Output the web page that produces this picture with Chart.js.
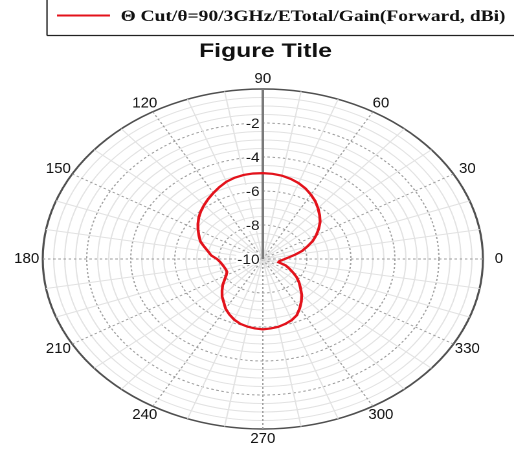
<!DOCTYPE html>
<html>
<head>
<meta charset="utf-8">
<script src="https://cdn.jsdelivr.net/npm/chart.js@4.4.1/dist/chart.umd.min.js"></script>
<style>
  html, body { margin: 0; padding: 0; background: #fff; overflow: hidden; }
  /* the polar plot is drawn round and widened into an ellipse */
  #wrap { width: 397px; height: 450px; transform: scaleX(1.29471); transform-origin: 0 0; }
</style>
</head>
<body>
<div id="wrap"><canvas id="c" width="397" height="450"></canvas></div>
<script>
// Phi cut, theta = 90 deg, 3 GHz, total E-field gain (dBi)
const angleDeg = [0,5,10,15,20,25,30,35,40,45,50,55,60,65,70,75,80,85,90,95,
                  100,105,110,115,120,125,130,135,140,145,150,155,160,165,170,175,
                  180,185,190,195,200,205,210,215,220,225,230,235,240,245,250,255,
                  260,265,270,275,280,285,290,295,300,305,310,315,320,325,330,335,
                  340,345,350,355];
const gainDb = [-9.00,-8.80,-8.50,-8.15,-7.85,-7.50,-7.20,-6.90,-6.60,-6.35,
                -6.10,-5.85,-5.63,-5.42,-5.25,-5.12,-5.02,-4.97,-4.95,-4.95,
                -4.98,-5.05,-5.16,-5.33,-5.51,-5.68,-5.85,-6.02,-6.20,-6.40,
                -6.60,-6.80,-6.98,-7.25,-7.48,-7.65,-7.92,-8.05,-8.13,-8.18,
                -8.21,-8.20,-8.08,-7.88,-7.62,-7.38,-7.12,-6.90,-6.62,-6.40,
                -6.20,-6.05,-5.96,-5.90,-5.86,-5.90,-5.95,-6.05,-6.17,-6.35,
                -6.65,-6.95,-7.25,-7.58,-7.85,-8.12,-8.42,-8.68,-8.90,-9.26,
                -9.24,-9.14];
const radialTicks = [-2, -4, -6, -8, -10];
const angleTicks = [0, 30, 60, 90, 120, 150, 180, 210, 240, 270, 300, 330];
const seriesName = 'Θ Cut/θ=90/3GHz/ETotal/Gain(Forward, dBi)';
const chartTitle = 'Figure Title';

const STRETCH = 514 / 397;      // horizontal widening applied by the wrapper
const STEP = 5;
const RED = '#e3121b';

// the radar scale runs clockwise from the top, so list directions from 90° downwards
const order = angleDeg.map((_, i) => ((90 - STEP * i) % 360 + 360) % 360);
const values = order.map(a => gainDb[angleDeg.indexOf(a)]);

// draw text at a point given in page pixels, with its own horizontal scale
function text(ctx, str, xPage, y, font, align, baseline, widthPage) {
  ctx.save();
  ctx.font = font;
  const w = ctx.measureText(str).width;
  const k = widthPage ? widthPage / w : 1;
  ctx.translate(xPage / STRETCH, y);
  ctx.scale(k / STRETCH, 1);
  ctx.textAlign = align;
  ctx.textBaseline = baseline;
  ctx.fillStyle = '#111';
  ctx.fillText(str, 0, 0);
  ctx.restore();
}

const annotate = {
  id: 'annotate',
  beforeDatasetsDraw(chart) {
    const ctx = chart.ctx;
    const r = chart.scales.r;
    // radial tick labels to the left of the 90° axis
    radialTicks.forEach(v => {
      const y = r.yCenter - r.getDistanceFromCenterForValue(v);
      const label = String(v);
      ctx.save();
      ctx.font = '14px "Liberation Sans"';
      const w = ctx.measureText(label).width;
      ctx.translate(r.xCenter - 2.5, y);
      ctx.scale(1.1 / STRETCH, 1);
      ctx.fillStyle = '#fff';
      ctx.fillRect(-w - 1, -6, w + 1, 12);
      ctx.fillStyle = '#1a1a1a';
      ctx.textAlign = 'right';
      ctx.textBaseline = 'middle';
      ctx.fillText(label, 0, 1);
      ctx.restore();
    });
    // angle labels around the rim
    const R = r.drawingArea;
    angleTicks.forEach(a => {
      const idx = order.indexOf(a);
      const px = r.getPointPosition(idx, R + 12.4).x;
      const py = r.getPointPosition(idx, R + 10).y;
      text(ctx, String(a), px * STRETCH, py, '15px "Liberation Sans"', 'center', 'middle');
    });
  },
  afterDraw(chart) {
    const ctx = chart.ctx;
    // legend frame
    ctx.save();
    ctx.strokeStyle = '#222';
    ctx.lineWidth = 1.4 / STRETCH;
    ctx.beginPath();
    ctx.moveTo(47 / STRETCH, 0);
    ctx.lineTo(47 / STRETCH, 35.5);
    ctx.stroke();
    ctx.lineWidth = 1.2;
    ctx.beginPath();
    ctx.moveTo(47 / STRETCH, 35.5);
    ctx.lineTo(chart.width, 35.5);
    ctx.stroke();
    // legend line sample
    ctx.strokeStyle = RED;
    ctx.lineWidth = 2;
    ctx.beginPath();
    ctx.moveTo(57 / STRETCH, 15.5);
    ctx.lineTo(110 / STRETCH, 15.5);
    ctx.stroke();
    ctx.restore();
    text(ctx, seriesName, 120.5, 21, 'bold 16px "Liberation Serif"', 'left', 'alphabetic', 385);
    text(ctx, chartTitle, 265.5, 57, 'bold 19px "Liberation Sans"', 'center', 'alphabetic', 133);
  }
};

const isMajorRing = v => Number.isInteger(v) && v % 2 === 0 && v !== 0;

new Chart(document.getElementById('c'), {
  type: 'radar',
  data: {
    labels: order.map(String),
    datasets: [{
      label: seriesName,
      data: values,
      borderColor: RED,
      borderWidth: 2.2,
      pointRadius: 0,
      fill: false,
      tension: 0
    }]
  },
  options: {
    responsive: false,
    animation: false,
    devicePixelRatio: 2,
    layout: { padding: { left: 33, right: 24, top: 89, bottom: 21 } },
    plugins: { legend: { display: false }, tooltip: { enabled: false } },
    scales: {
      r: {
        min: -10,
        max: 0,
        startAngle: 0,
        ticks: { display: false, stepSize: 0.5 },
        pointLabels: { display: false },
        grid: {
          circular: true,
          color: c => c.tick.value === 0 ? '#505050' : (isMajorRing(c.tick.value) ? '#9c9c9c' : '#e2e2e2'),
          lineWidth: c => c.tick.value === 0 ? 1.6 : 1
        },
        border: {
          dash: c => isMajorRing(c.tick.value) ? [2, 2] : []
        },
        angleLines: {
          color: c => {
            const a = order[c.index];
            if (a === 90) return '#7a7a7a';
            if (a % 30 === 0) return '#9c9c9c';
            return '#e2e2e2';
          },
          lineWidth: c => {
            const a = order[c.index];
            if (a === 90) return 2;
            return a % 10 === 0 ? 1 : 0;
          },
          borderDash: c => {
            const a = order[c.index];
            return (a % 30 === 0 && a !== 90) ? [2, 2] : [];
          }
        }
      }
    }
  },
  plugins: [annotate]
});
</script>
</body>
</html>
